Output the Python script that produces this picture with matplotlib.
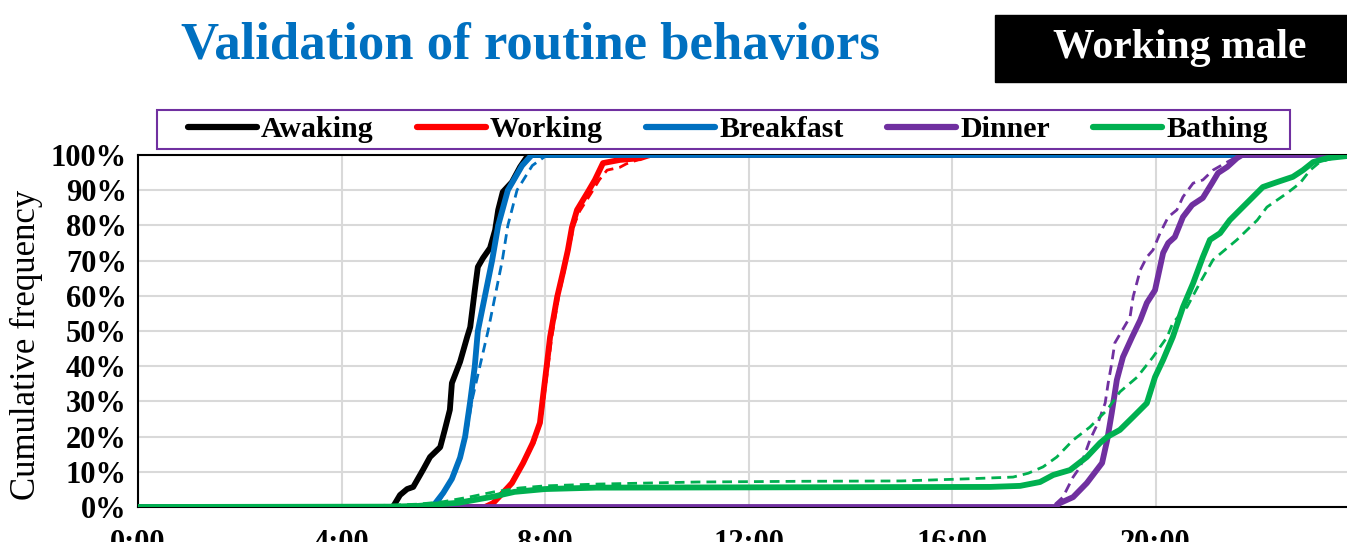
import matplotlib.pyplot as plt
from matplotlib.lines import Line2D

# cumulative frequency curves, hours of day vs percent
awaking_h = [0, 5.01, 5.15, 5.29, 5.41, 5.60, 5.74, 5.94, 6.03, 6.13, 6.17, 6.33, 6.47, 6.53,
             6.62, 6.68, 6.78, 6.92, 7.02, 7.08, 7.17, 7.35, 7.51, 7.67, 24]
awaking_p = [0, 0, 3.4, 5.1, 5.7, 10.5, 14.2, 17.0, 21.9, 27.6, 35.2, 41.2, 48.3, 51.1,
             61.6, 68.2, 70.7, 73.6, 78.7, 84.4, 89.5, 92.3, 96.6, 100, 100]

working_h = [0, 6.82, 6.98, 7.17, 7.35, 7.57, 7.76, 7.90, 7.96, 8.04, 8.10, 8.24, 8.35, 8.45,
             8.53, 8.63, 8.83, 8.98, 9.14, 9.47, 9.87, 10.06, 24]
working_p = [0, 0, 1.1, 4.0, 6.8, 12.5, 18.2, 23.9, 31.3, 40.9, 48.3, 59.7, 66.5, 73.0,
             79.5, 84.4, 89.2, 92.9, 97.7, 98.6, 99.1, 100, 100]
working_obs_h = [0, 6.82, 7.0, 7.15, 7.33, 7.57, 7.78, 7.92, 7.98, 8.07, 8.13, 8.27, 8.38, 8.48,
                 8.57, 8.68, 8.90, 9.07, 9.22, 9.47, 9.6, 9.9, 10.2, 24]
working_obs_p = [0, 0, 1, 4, 7, 12.5, 18, 24, 31, 41, 48, 60, 67, 74,
                 80, 84, 89, 93, 95.7, 96.5, 97.5, 99, 100, 100]

breakfast_h = [0, 5.74, 5.84, 6.00, 6.17, 6.33, 6.43, 6.53, 6.62, 6.68, 6.82, 6.96, 7.08,
               7.27, 7.55, 7.74, 24]
breakfast_p = [0, 0, 1, 4, 8, 14, 20, 30, 40, 50, 60, 70, 80, 90, 97, 100, 100]
breakfast_obs_h = [0, 5.74, 5.94, 6.25, 6.45, 6.56, 6.72, 6.88, 7.02, 7.16, 7.27, 7.45,
                   7.75, 8.04, 24]
breakfast_obs_p = [0, 0, 2, 10, 20, 30, 40, 50, 60, 70, 80, 90, 97, 100, 100]

dinner_h = [0, 18.02, 18.12, 18.38, 18.65, 18.95, 19.05, 19.14, 19.24, 19.36, 19.54, 19.70,
            19.83, 19.99, 20.15, 20.25, 20.38, 20.54, 20.72, 20.93, 21.11, 21.23, 21.41,
            21.60, 21.70, 24]
dinner_p = [0, 0, 1.1, 2.8, 6.8, 12.5, 19.0, 26.7, 36.1, 42.6, 48.3, 53.1,
            58.0, 61.6, 72.2, 75.0, 76.7, 82.4, 85.8, 87.8, 92.0, 94.9, 96.6,
            99.1, 100, 100]
dinner_obs_h = [0, 17.97, 18.18, 18.38, 18.52, 18.71, 18.87, 19.01, 19.07, 19.14, 19.20,
                19.50, 19.56, 19.70, 19.83, 19.95, 20.09, 20.25, 20.42, 20.54, 20.74,
                20.93, 21.13, 21.41, 21.66, 24]
dinner_obs_p = [0, 0, 2.8, 8.5, 11.4, 19.0, 23.9, 29.5, 35.2, 40.9, 46.6,
                54.0, 59.7, 67.3, 71.0, 73.0, 77.8, 82.4, 84.4, 88.1, 92.0,
                92.9, 95.7, 98.0, 100, 100]

bathing_h = [0, 5.0, 5.5, 6.3, 7.0, 7.4, 8.0, 9.0, 16.75, 17.34, 17.73, 17.99, 18.32, 18.65,
             18.91, 19.05, 19.30, 19.56, 19.83, 19.99, 20.15, 20.34, 20.54, 20.74, 20.93,
             21.07, 21.27, 21.46, 21.66, 22.11, 22.39, 22.70, 22.90, 23.10, 23.37, 23.76, 24]
bathing_p = [0, 0.1, 0.3, 1.2, 3.0, 4.3, 5.1, 5.5, 5.7, 6.0, 7.1, 9.1, 10.5, 14.2,
             18.2, 19.9, 21.9, 25.6, 29.5, 36.9, 41.8, 48.3, 56.8, 63.6, 71.0,
             75.9, 77.8, 81.5, 84.4, 90.9, 92.3, 93.8, 95.7, 98.0, 99.1, 99.7, 100]
bathing_obs_h = [0, 4.5, 5.5, 6.0, 6.5, 7.0, 7.5, 8.0, 9.0, 11.0, 13.0, 15.0, 16.3, 17.2,
                 17.5, 17.79, 18.06, 18.38, 18.71, 19.05, 19.30, 19.64, 19.95, 20.23,
                 20.34, 20.62, 20.87, 21.13, 21.60, 22.00, 22.19, 22.59, 22.84, 23.04,
                 23.23, 23.49, 23.76, 24]
bathing_obs_p = [0, 0.3, 0.8, 1.5, 2.8, 4.3, 5.4, 6.0, 6.5, 7.1, 7.3, 7.4, 8.0, 8.5,
                 9.6, 11.4, 14.2, 19.0, 22.7, 27.6, 32.7, 36.9, 42.6, 48.3,
                 52.3, 56.8, 63.6, 70.2, 75.9, 81.5, 85.2, 89.2, 92.0, 95.7,
                 98.0, 99.1, 99.7, 100]

labels = ["Awaking", "Working", "Breakfast", "Dinner", "Bathing"]
colors = ["#000000", "#FF0000", "#0070C0", "#7030A0", "#00B050"]
xticks = [0, 4, 8, 12, 16, 20]
xtick_labels = ["0:00", "4:00", "8:00", "12:00", "16:00", "20:00"]

plt.rcParams['font.family'] = ['Liberation Serif', 'DejaVu Serif']

W, H = 1347, 542
fig = plt.figure(figsize=(W / 100, H / 100), dpi=100)
ax = fig.add_axes([138 / W, 1 - 507 / H, 1221 / W, 352 / H])

solid = [(awaking_h, awaking_p), (working_h, working_p), (breakfast_h, breakfast_p),
         (dinner_h, dinner_p), (bathing_h, bathing_p)]
dashed = [None, (working_obs_h, working_obs_p), (breakfast_obs_h, breakfast_obs_p),
          (dinner_obs_h, dinner_obs_p), (bathing_obs_h, bathing_obs_p)]

for i in range(5):
    z = 3 + i
    if dashed[i] is not None:
        ax.plot(dashed[i][0], dashed[i][1], color=colors[i], lw=2.0, ls=(0, (3.5, 2.2)), zorder=z)
    ax.plot(solid[i][0], solid[i][1], color=colors[i], lw=4.2, zorder=z,
            solid_joinstyle='round', solid_capstyle='round')

ax.set_xlim(0, 24)
ax.set_ylim(0, 100)
ax.set_xticks(xticks)
ax.set_xticklabels(xtick_labels)
ax.set_yticks(range(0, 101, 10))
ax.set_yticklabels([f"{v}%" for v in range(0, 101, 10)])
ax.tick_params(length=0, labelsize=22)
ax.tick_params(axis='x', pad=16)
ax.tick_params(axis='y', pad=8)
for lab in ax.get_xticklabels() + ax.get_yticklabels():
    lab.set_fontweight('bold')
ax.grid(True, color='#d9d9d9', lw=1.5)
ax.set_axisbelow(True)
for s in ax.spines.values():
    s.set_color('black')
    s.set_linewidth(1.5)
ax.set_ylabel("Cumulative frequency", fontsize=25)
ax.yaxis.set_label_coords((43 - 138) / 1221, (507 - 345) / 352)

fig.text(530 / W, 1 - 46 / H, "Validation of routine behaviors", color="#0070C0",
         fontsize=38, fontweight='bold', ha='center', va='center')
fig.patches.append(plt.Rectangle((995 / W, 1 - 82 / H), 352 / W, 67 / H,
                                 transform=fig.transFigure, color='black'))
fig.text(1180 / W, 1 - 48 / H, "Working male", color='white', fontsize=30,
         fontweight='bold', ha='center', va='center')

# legend frame drawn separately so its size matches
fig.patches.append(plt.Rectangle((157 / W, 1 - 149 / H), 1133 / W, 39 / H,
                                 transform=fig.transFigure, facecolor='white',
                                 edgecolor='#7030A0', lw=1.5, zorder=1))
handles = [Line2D([], [], color=c, lw=4.5, solid_capstyle='round') for c in colors]
leg = fig.legend(handles, labels, loc='center', ncol=5,
                 bbox_to_anchor=(728 / W, 1 - 129.5 / H),
                 frameon=False, handlelength=2.3, handletextpad=0.15,
                 columnspacing=1.45, borderaxespad=0,
                 prop={'weight': 'bold', 'size': 21.5})

fig.savefig("out.png", dpi=100)
